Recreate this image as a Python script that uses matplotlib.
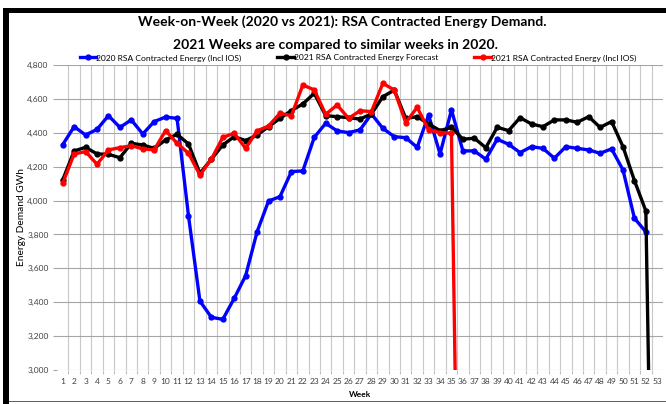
import numpy as np
import matplotlib
matplotlib.use("Agg")
from matplotlib import pyplot as plt
from matplotlib.patches import Rectangle
from matplotlib.ticker import FuncFormatter

plt.rcParams['font.family'] = ['Lato', 'DejaVu Sans']

weeks = list(range(1, 54))

# 2020 RSA Contracted Energy (Incl IOS), weeks 1-52
demand_2020 = [4330, 4436, 4387, 4420, 4501, 4432, 4476, 4393, 4466, 4493,
               4485, 3910, 3407, 3311, 3299, 3423, 3557, 3816, 3997, 4023,
               4171, 4175, 4373, 4456, 4411, 4401, 4417, 4511, 4426, 4377,
               4371, 4314, 4505, 4275, 4535, 4293, 4293, 4244, 4362, 4332,
               4283, 4318, 4308, 4250, 4318, 4308, 4299, 4279, 4305, 4181,
               3896, 3815, np.nan]

# 2021 RSA Contracted Energy Forecast, weeks 1-53 (week 53 = 0)
forecast_2021 = [4122, 4293, 4314, 4275, 4273, 4253, 4338, 4328, 4308, 4358,
                 4391, 4334, 4161, 4244, 4328, 4377, 4354, 4387, 4436, 4485,
                 4531, 4570, 4633, 4501, 4495, 4489, 4481, 4511, 4613, 4652,
                 4485, 4495, 4452, 4413, 4432, 4362, 4368, 4312, 4432, 4413,
                 4489, 4452, 4436, 4476, 4476, 4462, 4495, 4432, 4466, 4318,
                 4118, 3939, 0]

# 2021 RSA Contracted Energy (Incl IOS), weeks 1-35 actual, week 36 = 0
actual_2021 = [4102, 4275, 4289, 4214, 4299, 4312, 4324, 4305, 4299, 4413,
               4338, 4279, 4151, 4244, 4373, 4397, 4308, 4411, 4440, 4515,
               4501, 4682, 4653, 4509, 4564, 4485, 4530, 4525, 4692, 4652,
               4460, 4550, 4417, 4401, 4397, 0] + [np.nan] * 17

series = [
    ("2020 RSA Contracted Energy (Incl IOS)", demand_2020, "#0000ff"),
    ("2021 RSA Contracted Energy Forecast", forecast_2021, "#000000"),
    ("2021 RSA Contracted Energy (Incl IOS)", actual_2021, "#ff0000"),
]

fig = plt.figure(figsize=(6.66, 4.04), dpi=100)
ax = fig.add_axes([57 / 666, 34 / 404, 606 / 666, 305 / 404])

for label, values, color in series:
    ax.plot(weeks, values, color=color, lw=2.4, marker="o", ms=3.5,
            label=label, solid_joinstyle="round")

ax.set_xlim(0.5, 53.5)
ax.set_ylim(3000, 4800)
ax.set_yticks(np.arange(3000, 4801, 200))
ax.yaxis.set_major_formatter(FuncFormatter(lambda v, p: "{:,.0f}".format(v)))
ax.set_xticks(weeks)
ax.set_xticks(np.arange(1.5, 53, 1), minor=True)
ax.tick_params(axis="both", which="major", length=0, labelsize=6, labelcolor="#404040", pad=6)
ax.tick_params(axis="y", which="major", length=3, color="#a6a6a6", width=0.8, pad=3)
ax.tick_params(axis="x", which="minor", length=3, color="#c0c0c0", width=0.8)
ax.grid(axis="y", color="#a6a6a6", lw=0.8)
ax.grid(axis="x", which="minor", color="#c8c8c8", lw=0.8)
ax.set_axisbelow(True)
for s in ax.spines.values():
    s.set_visible(False)

ax.set_ylabel("Energy Demand GWh", fontsize=7.3)
ax.yaxis.set_label_coords(-31 / 606, 0.5)
ax.set_xlabel("Week", fontsize=6, fontweight="bold", labelpad=4)

fig.text(342 / 666, 1 - 22 / 404, "Week-on-Week (2020 vs 2021): RSA Contracted Energy Demand.",
         ha="center", va="center", fontsize=10, fontweight="bold")
fig.text(335 / 666, 1 - 45 / 404, "2021 Weeks are compared to similar weeks in 2020.",
         ha="center", va="center", fontsize=10, fontweight="bold")

fig.legend(loc="center", bbox_to_anchor=(358 / 666, 1 - 58 / 404), ncol=3, frameon=False,
           fontsize=6.1, handlelength=2.0, columnspacing=4.2, handletextpad=0.0,
           borderaxespad=0, borderpad=0)

# black frame of the original screenshot
fig.add_artist(Rectangle((3 / 666, 1 - 13 / 404), 1, 5 / 404, transform=fig.transFigure,
                         color="black", lw=0))
fig.add_artist(Rectangle((3 / 666, 0), 6 / 666, 1 - 8 / 404, transform=fig.transFigure,
                         color="black", lw=0))
fig.add_artist(Rectangle((9 / 666, 2 / 404), 1, 1.5 / 404, transform=fig.transFigure,
                         color="#606060", lw=0))

fig.savefig("out.png", dpi=100)
